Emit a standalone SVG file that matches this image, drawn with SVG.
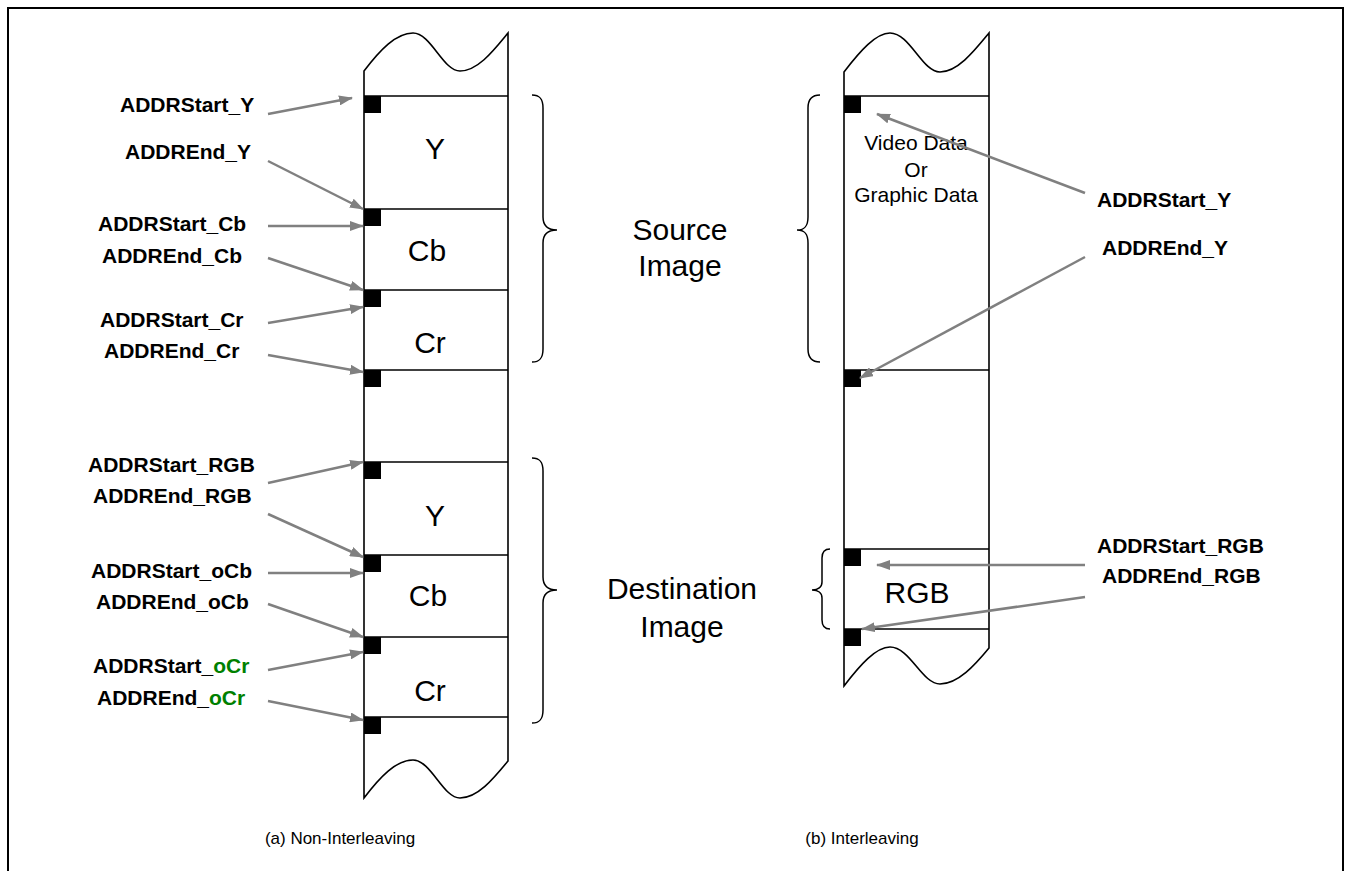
<svg xmlns="http://www.w3.org/2000/svg" width="1351" height="871" viewBox="0 0 1351 871">
<defs>
<marker id="ah" viewBox="0 0 14 10" refX="13" refY="5" markerWidth="14" markerHeight="10" markerUnits="userSpaceOnUse" orient="auto">
<path d="M0,0 L14,5 L0,10 Z" fill="#808080"/>
</marker>
</defs>
<style>
.col{fill:none;stroke:#000;stroke-width:1.6}
.sq{fill:#000}
.lbl{font-family:"Liberation Sans",Arial,sans-serif;font-weight:bold;font-size:21px;fill:#000}
.seg{font-family:"Liberation Sans",Arial,sans-serif;font-size:30px;fill:#000;text-anchor:middle}
.big{font-family:"Liberation Sans",Arial,sans-serif;font-size:30px;fill:#000;text-anchor:middle}
.sm{font-family:"Liberation Sans",Arial,sans-serif;font-size:21px;fill:#000;text-anchor:middle}
.cap{font-family:"Liberation Sans",Arial,sans-serif;font-size:17px;fill:#000;text-anchor:middle}
.ar{fill:none;stroke:#808080;stroke-width:2.5;marker-end:url(#ah)}
.br{fill:none;stroke:#000;stroke-width:1.5}
.g{fill:#008000}
</style>
<rect x="0" y="0" width="1351" height="871" fill="#fff"/>
<path d="M8,880 L8,8 L1343,8 L1343,880" fill="none" stroke="#000" stroke-width="2"/>

<g id="left-column">
<path class="col" d="M364,71 C380,50 396,33 413,33 C431,33 443,71 460,71 C478,71 494,50 508,33 L508,761 C494,778 478,798 460,798 C443,798 431,760 413,760 C396,760 380,777 364,798 Z"/>
<line class="col" x1="364" y1="96" x2="508" y2="96"/>
<line class="col" x1="364" y1="209" x2="508" y2="209"/>
<line class="col" x1="364" y1="290" x2="508" y2="290"/>
<line class="col" x1="364" y1="370" x2="508" y2="370"/>
<line class="col" x1="364" y1="462" x2="508" y2="462"/>
<line class="col" x1="364" y1="555" x2="508" y2="555"/>
<line class="col" x1="364" y1="637" x2="508" y2="637"/>
<line class="col" x1="364" y1="717" x2="508" y2="717"/>
<rect class="sq" x="364" y="96" width="17" height="17"/>
<rect class="sq" x="364" y="209" width="17" height="17"/>
<rect class="sq" x="364" y="290" width="17" height="17"/>
<rect class="sq" x="364" y="370" width="17" height="17"/>
<rect class="sq" x="364" y="462" width="17" height="17"/>
<rect class="sq" x="364" y="555" width="17" height="17"/>
<rect class="sq" x="364" y="637" width="17" height="17"/>
<rect class="sq" x="364" y="717" width="17" height="17"/>
<text class="seg" x="435" y="159">Y</text>
<text class="seg" x="427" y="261">Cb</text>
<text class="seg" x="430" y="353">Cr</text>
<text class="seg" x="435" y="526">Y</text>
<text class="seg" x="428" y="606">Cb</text>
<text class="seg" x="430" y="701">Cr</text>
</g>

<g id="right-column">
<path class="col" d="M844,72 C860,51 876,33 890,33 C910,33 922,72 940,72 C958,72 975,50 989,33 L989,648 C975,665 958,684 940,684 C922,684 910,647 890,647 C876,647 860,665 844,686 Z"/>
<line class="col" x1="844" y1="96" x2="989" y2="96"/>
<line class="col" x1="844" y1="370" x2="989" y2="370"/>
<line class="col" x1="844" y1="549" x2="989" y2="549"/>
<line class="col" x1="844" y1="629" x2="989" y2="629"/>
<rect class="sq" x="844" y="96" width="17" height="17"/>
<rect class="sq" x="844" y="370" width="17" height="17"/>
<rect class="sq" x="844" y="549" width="17" height="17"/>
<rect class="sq" x="844" y="629" width="17" height="17"/>
<text class="sm" x="916" y="150">Video Data</text>
<text class="sm" x="916" y="177">Or</text>
<text class="sm" x="916" y="202">Graphic Data</text>
<text class="big" x="917" y="603">RGB</text>
</g>

<g id="braces">
<path class="br" d="M532,95 C540,95 543,99 543,108 L543,217 C543,226 548,230 557,230 C548,230 543,234 543,243 L543,349 C543,358 540,362 532,362"/>
<path class="br" d="M532,458 C540,458 543,462 543,471 L543,577 C543,586 548,590 557,590 C548,590 543,594 543,603 L543,710 C543,719 540,723 532,723"/>
<path class="br" d="M820,95 C812,95 808,99 808,108 L808,217 C808,226 805,230 797,230 C805,230 808,234 808,243 L808,349 C808,358 812,362 820,362"/>
<path class="br" d="M830,549 C825,549 822,552 822,558 L822,582 C822,587 818,590 812,590 C818,590 822,593 822,598 L822,620 C822,626 825,629 830,629"/>
</g>

<g id="group-labels">
<text class="big" x="680" y="240">Source</text>
<text class="big" x="680" y="276">Image</text>
<text class="big" x="682" y="599">Destination</text>
<text class="big" x="682" y="637">Image</text>
<text class="cap" x="340" y="844">(a) Non-Interleaving</text>
<text class="cap" x="862" y="844">(b) Interleaving</text>
</g>

<g id="address-labels">
<text class="lbl" x="120" y="112">ADDRStart_Y</text>
<text class="lbl" x="125" y="159">ADDREnd_Y</text>
<text class="lbl" x="98" y="231">ADDRStart_Cb</text>
<text class="lbl" x="102" y="263">ADDREnd_Cb</text>
<text class="lbl" x="100" y="327">ADDRStart_Cr</text>
<text class="lbl" x="104" y="358">ADDREnd_Cr</text>
<text class="lbl" x="88" y="472">ADDRStart_RGB</text>
<text class="lbl" x="93" y="503">ADDREnd_RGB</text>
<text class="lbl" x="91" y="578">ADDRStart_oCb</text>
<text class="lbl" x="96" y="609">ADDREnd_oCb</text>
<text class="lbl" x="93" y="673">ADDRStart_<tspan class="g">oCr</tspan></text>
<text class="lbl" x="97" y="705">ADDREnd_<tspan class="g">oCr</tspan></text>
<text class="lbl" x="1097" y="207">ADDRStart_Y</text>
<text class="lbl" x="1102" y="255">ADDREnd_Y</text>
<text class="lbl" x="1097" y="553">ADDRStart_RGB</text>
<text class="lbl" x="1102" y="583">ADDREnd_RGB</text>
</g>

<g id="connectors">
<line class="ar" x1="268" y1="114" x2="352" y2="98"/>
<line class="ar" x1="268" y1="161" x2="363" y2="209"/>
<line class="ar" x1="268" y1="226" x2="363" y2="226"/>
<line class="ar" x1="268" y1="258" x2="363" y2="290"/>
<line class="ar" x1="268" y1="323" x2="363" y2="307"/>
<line class="ar" x1="268" y1="355" x2="363" y2="372"/>
<line class="ar" x1="268" y1="483" x2="363" y2="462"/>
<line class="ar" x1="268" y1="514" x2="363" y2="557"/>
<line class="ar" x1="268" y1="573" x2="363" y2="573"/>
<line class="ar" x1="268" y1="604" x2="363" y2="637"/>
<line class="ar" x1="268" y1="670" x2="363" y2="652"/>
<line class="ar" x1="268" y1="701" x2="363" y2="720"/>
<line class="ar" x1="1085" y1="193" x2="877" y2="114"/>
<line class="ar" x1="1085" y1="257" x2="860" y2="378"/>
<line class="ar" x1="1085" y1="565" x2="877" y2="565"/>
<line class="ar" x1="1085" y1="597" x2="862" y2="629"/>
</g>
</svg>
